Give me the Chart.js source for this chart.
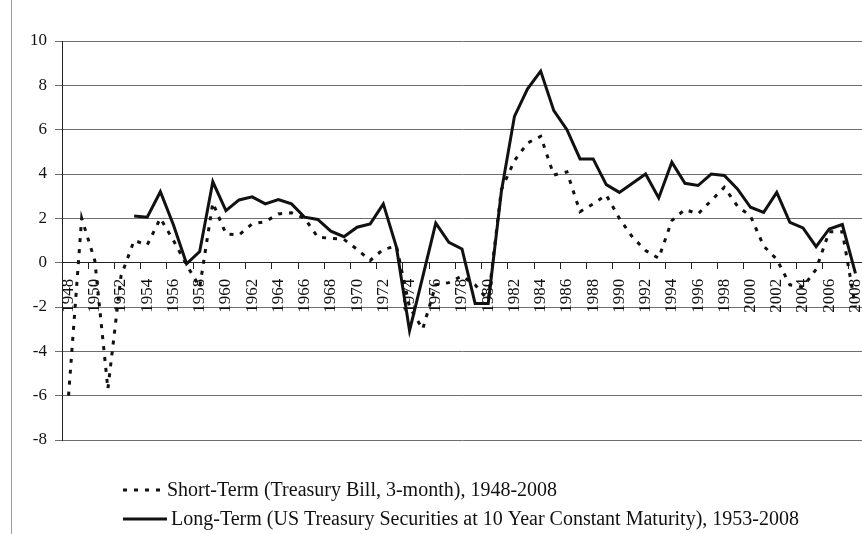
<!DOCTYPE html>
<html>
<head>
<meta charset="utf-8">
<script src="https://cdn.jsdelivr.net/npm/chart.js"></script>
<style>
  body { margin: 0; background: #fff; }
  #wrap { position: relative; width: 862px; height: 534px; }
  #khung { position: absolute; left: 11px; top: 0; width: 1px; height: 534px; background: #9a9a9a; }
</style>
</head>
<body>
<div id="wrap">
  <canvas id="chartLaiSuat" width="862" height="534"></canvas>
  <div id="khung"></div>
</div>
<script>
// Du lieu: lai suat thuc (%) theo nam
const years = ['1948','1949','1950','1951','1952','1953','1954','1955','1956','1957',
  '1958','1959','1960','1961','1962','1963','1964','1965','1966','1967',
  '1968','1969','1970','1971','1972','1973','1974','1975','1976','1977',
  '1978','1979','1980','1981','1982','1983','1984','1985','1986','1987',
  '1988','1989','1990','1991','1992','1993','1994','1995','1996','1997',
  '1998','1999','2000','2001','2002','2003','2004','2005','2006','2007','2008'];

const shortTerm = [-6.0, 2.0, 0.1, -5.7, -0.6, 1.0, 0.8, 2.0, 1.0, -0.1,
  -1.1, 2.7, 1.3, 1.25, 1.75, 1.85, 2.2, 2.25, 2.0, 1.15,
  1.1, 1.05, 0.6, 0.1, 0.6, 0.75, -2.0, -3.0, -1.0, -0.9,
  -0.6, -1.0, -1.7, 3.3, 4.6, 5.4, 5.7, 3.95, 4.1, 2.3,
  2.65, 3.05, 2.0, 1.15, 0.55, 0.2, 1.9, 2.4, 2.2, 2.8,
  3.4, 2.55, 2.1, 0.75, 0.15, -1.0, -1.1, -0.3, 1.4, 1.4, -2.0];

const longTerm = [null, null, null, null, null, 2.1, 2.05, 3.2, 1.7, -0.05,
  0.5, 3.65, 2.35, 2.83, 2.97, 2.65, 2.85, 2.65, 2.05, 1.95,
  1.42, 1.17, 1.6, 1.75, 2.65, 0.7, -3.07, -0.65, 1.78, 0.92,
  0.62, -1.84, -1.84, 3.2, 6.6, 7.84, 8.64, 6.86, 6.0, 4.68,
  4.68, 3.52, 3.17, 3.58, 4.0, 2.92, 4.53, 3.58, 3.48, 4.0,
  3.93, 3.33, 2.5, 2.27, 3.17, 1.82, 1.57, 0.72, 1.52, 1.72, -0.48];

const shortLabel = 'Short-Term (Treasury Bill, 3-month), 1948-2008';
const longLabel = 'Long-Term (US Treasury Securities at 10 Year Constant Maturity), 1953-2008';

const fontChu = '"Liberation Serif", "Times New Roman", serif';

// Chu thich ve tay o duoi bieu do
const legendDuoi = {
  id: 'legendDuoi',
  afterDraw(chart) {
    const ctx = chart.ctx;
    const rows = [
      { ds: 0, y: 490, x0: 123, x1: 163 },
      { ds: 1, y: 519, x0: 123, x1: 167 }
    ];
    ctx.save();
    ctx.font = '20px ' + fontChu;
    ctx.fillStyle = '#111';
    ctx.textBaseline = 'middle';
    rows.forEach(r => {
      const ds = chart.data.datasets[r.ds];
      ctx.beginPath();
      ctx.setLineDash(ds.borderDash || []);
      ctx.lineWidth = ds.borderWidth;
      ctx.strokeStyle = ds.borderColor;
      ctx.moveTo(r.x0, r.y);
      ctx.lineTo(r.x1, r.y);
      ctx.stroke();
      ctx.setLineDash([]);
      ctx.fillText(ds.label, r.x1 + 4, r.y + 1);
    });
    ctx.restore();
  }
};

const ctx = document.getElementById('chartLaiSuat').getContext('2d');
const chart = new Chart(ctx, {
  type: 'line',
  data: {
    labels: years,
    datasets: [
      {
        label: shortLabel,
        data: shortTerm,
        borderColor: '#111',
        borderWidth: 3,
        borderDash: [4, 7],
        pointRadius: 0,
        tension: 0,
        fill: false
      },
      {
        label: longLabel,
        data: longTerm,
        borderColor: '#111',
        borderWidth: 3,
        pointRadius: 0,
        tension: 0,
        fill: false
      }
    ]
  },
  options: {
    responsive: false,
    animation: false,
    layout: { padding: { left: 12, top: 41, right: 0, bottom: 94 } },
    plugins: {
      legend: { display: false },
      tooltip: { enabled: false }
    },
    scales: {
      x: {
        type: 'category',
        position: { y: 0 },
        offset: true,
        afterFit: s => { s.paddingLeft = 0; s.paddingRight = 0; },
        grid: {
          offset: true,
          drawOnChartArea: false,
          drawTicks: true,
          tickLength: 6,
          color: c => (c.index % 2 === 0 ? '#222' : 'rgba(0,0,0,0)')
        },
        border: { display: true, color: '#222', width: 1 },
        ticks: {
          autoSkip: false,
          maxRotation: 90,
          minRotation: 90,
          padding: 10,
          color: '#111',
          font: { family: fontChu, size: 17 },
          callback: (v, i) => (i % 2 === 0 ? years[i] : '')
        }
      },
      y: {
        min: -8,
        max: 10,
        afterFit: s => { s.width = 50; },
        grid: { color: '#6e6e6e', lineWidth: 1, tickLength: 7 },
        border: { display: true, color: '#222', width: 1 },
        ticks: {
          stepSize: 2,
          padding: 8,
          color: '#111',
          font: { family: fontChu, size: 17 }
        }
      }
    }
  },
  plugins: [legendDuoi]
});
</script>
</body>
</html>
